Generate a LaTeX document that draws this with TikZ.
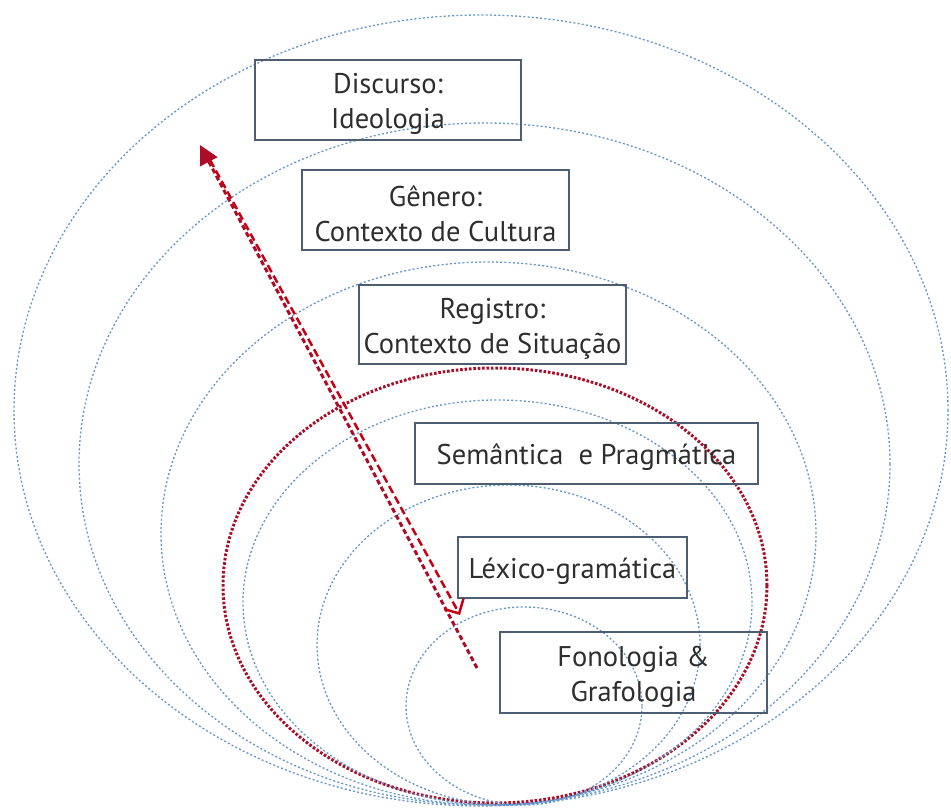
\documentclass[tikz,border=0pt]{standalone}
\usepackage{fontspec}
\setmainfont{PT Sans}
\usetikzlibrary{arrows.meta}
\definecolor{ringblue}{RGB}{100,150,204}
\definecolor{ringred}{RGB}{168,16,42}
\definecolor{arrowred}{RGB}{200,0,20}
\definecolor{arrowdark}{RGB}{172,12,40}
\definecolor{boxedge}{RGB}{78,94,114}
\begin{document}
\begin{tikzpicture}[x=1pt,y=-1pt,
  ring/.style={draw=ringblue,line width=1.3pt,dash pattern=on 2pt off 2.2pt},
  redring/.style={draw=ringred,line width=3pt,dash pattern=on 2.6pt off 1.8pt},
  level/.style={draw=boxedge,line width=1.8pt,inner sep=0pt},
  leveltext/.style={align=center,inner sep=0pt,yshift=-4pt,
    font=\fontsize{28.5}{35}\selectfont,text=black!82},
  upflow/.style={draw=arrowdark,line width=3pt,dash pattern=on 5pt off 3pt,
    -{Triangle[length=19pt,width=19pt]}},
  downflow/.style={draw=arrowred,line width=2.5pt,dash pattern=on 8pt off 4pt,
    -{Straight Barb[length=11pt,width=22pt,line width=2.5pt]}}]
\useasboundingbox (0,0) rectangle (951,808);

% nested strata, all touching near the bottom
\draw[ring] (481,410.5) ellipse [x radius=467pt,y radius=395.5pt];
\draw[ring] (484.5,464) ellipse [x radius=405.5pt,y radius=341pt];
\draw[ring] (488.5,533.5) ellipse [x radius=327.5pt,y radius=271.5pt];
\draw[redring] (495,585.5) ellipse [x radius=272pt,y radius=217.5pt];
\draw[ring] (497.5,602.5) ellipse [x radius=254.5pt,y radius=202.5pt];
\draw[ring] (508.5,645) ellipse [x radius=191.5pt,y radius=160pt];
\draw[ring] (524,706) ellipse [x radius=118pt,y radius=99pt];

% frames of the strata
\node[level,minimum width=266pt,minimum height=80pt] (disc) at (388,100) {};
\node[level,minimum width=267pt,minimum height=80pt] (gen) at (435.5,210) {};
\node[level,minimum width=267pt,minimum height=79pt] (reg) at (492.5,324.5) {};
\node[level,minimum width=343pt,minimum height=61pt] (sem) at (586.5,453.5) {};
\node[level,minimum width=229pt,minimum height=61pt] (lex) at (572.5,567.5) {};
\node[level,minimum width=267pt,minimum height=81pt] (fon) at (633.5,672.5) {};

% their labels
\node[leveltext] (disc-t) at (disc.center) {Discurso:\\Ideologia};
\node[leveltext] (gen-t) at (gen.center) {Gênero:\\Contexto de Cultura};
\node[leveltext] (reg-t) at (reg.center) {Registro:\\Contexto de Situação};
\node[leveltext] (sem-t) at (sem.center) {Semântica\ \ e Pragmática};
\node[leveltext] (lex-t) at (lex.center) {Léxico-gramática};
\node[leveltext] (fon-t) at (fon.center) {Fonologia \&\\Grafologia};

% realisation arrows
\coordinate (upstart) at (477,668);
\coordinate (uptip) at (200,145);
\coordinate (downstart) at (210,160);
\coordinate (downtip) at (460,615);
\draw[upflow] (upstart) -- (uptip);
\draw[downflow] (downstart) -- (downtip);
\end{tikzpicture}
\end{document}
